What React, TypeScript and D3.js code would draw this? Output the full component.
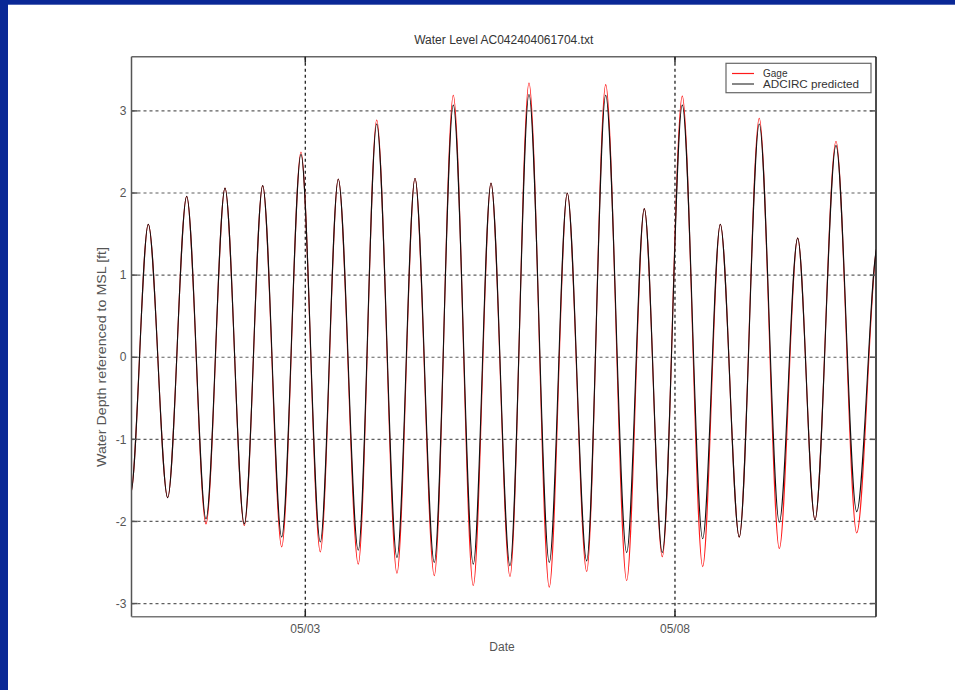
import React from "react";
import * as d3 from "d3";

// Hours since 2004-04-30 00:00 of each extremum (alternating peaks/troughs)
const hours = [8.6, 15.3, 21.04, 27.34, 33.5, 39.77, 45.94, 52.2, 58.17, 64.34, 70.6, 76.87, 82.71, 89.2, 95.18, 101.76, 107.61, 113.87, 120.04, 126.53, 132.28, 138.44, 144.61, 151.2, 157.04, 163.34, 169.51, 176.32, 182.04, 187.88, 194.37, 200.99, 206.71, 212.87, 219.36, 225.86, 231.83, 237.45, 244.26, 250.98, 257.9, 264.2];
const gage = [1.5, -1.66, 1.62, -1.71, 1.96, -2.03, 2.06, -2.05, 2.09, -2.31, 2.5, -2.37, 2.17, -2.52, 2.89, -2.63, 2.18, -2.66, 3.19, -2.78, 2.12, -2.67, 3.34, -2.8, 2.0, -2.61, 3.32, -2.72, 1.81, -2.43, 3.18, -2.55, 1.62, -2.19, 2.91, -2.33, 1.45, -1.98, 2.63, -2.14, 1.38, -2.0];
const adcirc = [1.5, -1.66, 1.62, -1.71, 1.96, -1.97, 2.06, -2.03, 2.09, -2.19, 2.47, -2.25, 2.17, -2.35, 2.84, -2.44, 2.18, -2.5, 3.07, -2.52, 2.12, -2.54, 3.2, -2.5, 2.0, -2.48, 3.19, -2.38, 1.81, -2.38, 3.07, -2.21, 1.62, -2.19, 2.84, -2.01, 1.45, -1.98, 2.58, -1.88, 1.38, -2.0];
const yTicks = [-3, -2, -1, 0, 1, 2, 3];
const xTickDates = ["2004-05-03", "2004-05-08"];
const xTickLabels = ["05/03", "05/08"];
const seriesNames = ["Gage", "ADCIRC predicted"];
const title = "Water Level AC042404061704.txt";

const base = new Date(2004, 3, 30, 0, 0, 0).getTime();
const toDate = (h: number) => new Date(base + h * 3600 * 1000);

export default function App() {
  const L = 131.5, R = 876, T = 56.7, B = 616.7;
  const x = d3.scaleTime().domain([toDate(15.59), toDate(257.25)]).range([L, R]);
  const y = d3.scaleLinear().domain([-3.16, 3.66]).range([B, T]);
  const line = d3
    .line<[number, number]>()
    .x((d) => x(toDate(d[0])))
    .y((d) => y(d[1]))
    .curve(d3.curveMonotoneX);
  const gPts = hours.map((h, i) => [h, gage[i]] as [number, number]);
  const aPts = hours.map((h, i) => [h, adcirc[i]] as [number, number]);
  const font = "'Liberation Sans Narrow', 'Liberation Sans', Arial, sans-serif";
  const xTicks = xTickDates.map((s) => {
    const [yy, mm, dd] = s.split("-").map(Number);
    return new Date(yy, mm - 1, dd);
  });
  return (
    <div style={{ position: "fixed", left: 0, top: 0, width: 955, height: 690, background: "#fff" }}>
      <svg width={955} height={690} style={{ display: "block" }}>
        <rect x={0} y={0} width={955} height={690} fill="#fff" />
        <rect x={0} y={0} width={955} height={4.7} fill="#0a2896" />
        <rect x={0} y={0} width={8} height={690} fill="#0a2896" />
        <defs>
          <clipPath id="plotclip">
            <rect x={L} y={T} width={R - L} height={B - T} />
          </clipPath>
        </defs>
        {/* horizontal grid */}
        {yTicks.map((t) => (
          <line key={"gy" + t} x1={L} x2={R} y1={y(t)} y2={y(t)} stroke="#444" strokeWidth={1.2} strokeDasharray="3,3" opacity={0.85} />
        ))}
        {/* vertical grid */}
        {xTicks.map((t, i) => (
          <line key={"gx" + i} x1={x(t)} x2={x(t)} y1={T} y2={B} stroke="#111" strokeWidth={1.2} strokeDasharray="3,3" />
        ))}
        <g clipPath="url(#plotclip)">
          <path d={line(gPts) || ""} fill="none" stroke="#ff1a1a" strokeWidth={1.1} />
          <path d={line(aPts) || ""} fill="none" stroke="#111" strokeWidth={1.1} />
        </g>
        {/* frame */}
        <line x1={L} x2={R} y1={T} y2={T} stroke="#666" strokeWidth={1.5} />
        <line x1={L} x2={L} y1={T} y2={B} stroke="#555" strokeWidth={1.5} />
        <line x1={L} x2={R} y1={B} y2={B} stroke="#777" strokeWidth={1.5} />
        <line x1={R} x2={R} y1={T} y2={B} stroke="#111" strokeWidth={1.5} />
        {/* y ticks */}
        {yTicks.map((t) => (
          <g key={"ty" + t}>
            <line x1={L} x2={L + 6} y1={y(t)} y2={y(t)} stroke="#555" strokeWidth={1.5} />
            <line x1={R - 6} x2={R} y1={y(t)} y2={y(t)} stroke="#555" strokeWidth={1.5} />
            <text x={L - 5} y={y(t)} dy="0.35em" textAnchor="end" fontSize={12} fill="#555" fontFamily={font}>
              {t}
            </text>
          </g>
        ))}
        {/* x ticks */}
        {xTicks.map((t, i) => (
          <g key={"tx" + i}>
            <line x1={x(t)} x2={x(t)} y1={B - 6} y2={B} stroke="#222" strokeWidth={1.5} />
            <line x1={x(t)} x2={x(t)} y1={T} y2={T + 6} stroke="#222" strokeWidth={1.5} />
            <text x={x(t)} y={B + 16} textAnchor="middle" fontSize={12} fill="#555" fontFamily={font}>
              {xTickLabels[i]}
            </text>
          </g>
        ))}
        <text x={(L + R) / 2} y={44} textAnchor="middle" fontSize={12} fill="#333" fontFamily={font}>
          {title}
        </text>
        <text x={502} y={651} textAnchor="middle" fontSize={12} fill="#555" fontFamily={font}>
          Date
        </text>
        <text transform={`translate(106, 357) rotate(-90)`} textAnchor="middle" fontSize={13} fill="#555" fontFamily={font} textLength={220} lengthAdjust="spacingAndGlyphs">
          Water Depth referenced to MSL [ft]
        </text>
        {/* legend */}
        <rect x={726} y={63.3} width={145} height={29.4} fill="#fff" stroke="#666" strokeWidth={1.2} />
        <line x1={732} x2={754} y1={73.5} y2={73.5} stroke="#ff1a1a" strokeWidth={1.2} />
        <line x1={732} x2={754} y1={84} y2={84} stroke="#111" strokeWidth={1} />
        <text x={763} y={73.5} dy="0.35em" fontSize={10} fill="#333" fontFamily={font}>
          {seriesNames[0]}
        </text>
        <text x={763} y={84.5} dy="0.35em" fontSize={10} fill="#333" fontFamily={font} textLength={96} lengthAdjust="spacingAndGlyphs">
          {seriesNames[1]}
        </text>
      </svg>
    </div>
  );
}
